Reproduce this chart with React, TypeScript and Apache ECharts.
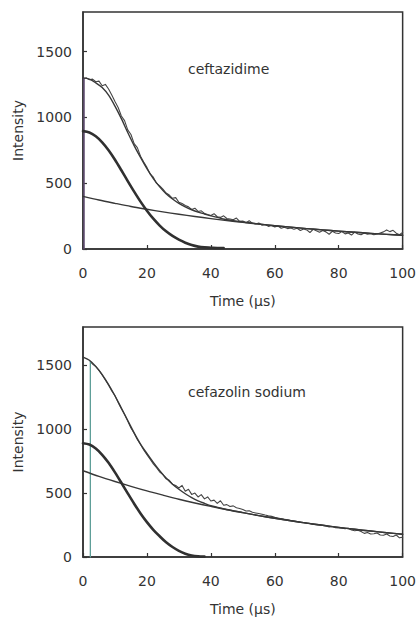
import React, { useEffect, useRef } from "react";
import * as echarts from "echarts";

// ---- data ----
const fitTimes = [0, 2, 4, 6, 8, 10, 12, 14, 16, 18, 20, 22, 24, 26, 28, 30, 32, 34, 36, 38, 40, 45, 50, 55, 60, 65, 70, 75, 80, 85, 90, 95, 100];
const gaussTimes = [0, 2, 4, 6, 8, 10, 12, 14, 16, 18, 20, 22, 24, 26, 28, 30, 32, 34, 36, 38, 40, 42, 44];
const expTimes = [0, 5, 10, 15, 20, 25, 30, 35, 40, 45, 50, 55, 60, 65, 70, 75, 80, 85, 90, 95, 100];

// ceftazidime (top panel)
const topFit = [1300, 1290, 1262, 1226, 1168, 1085, 990, 885, 785, 695, 610, 535, 472, 420, 380, 347, 320, 298, 280, 266, 252, 222, 205, 190, 177, 166, 155, 145, 136, 127, 119, 111, 104];
const topGauss = [895, 885, 856, 810, 750, 678, 598, 516, 436, 360, 291, 230, 178, 134, 99, 71, 48, 30, 18, 12, 10, 8, 8];
const topExp = [400, 372, 347, 323, 302, 282, 264, 247, 231, 216, 202, 189, 177, 166, 155, 145, 136, 127, 119, 111, 104];
const topOnset = [0.3, 1295];
const topSignal = [
  1295, 1300, 1285, 1290, 1270, 1275, 1240, 1250, 1215, 1170,
  1120, 1075, 1010, 975, 905, 870, 800, 770, 705, 660,
  620, 570, 545, 500, 480, 455, 425, 410, 385, 390,
  355, 345, 330, 320, 300, 310, 285, 290, 270, 262,
  255, 268, 245, 240, 252, 232, 228, 222, 235, 210,
  212, 200, 215, 195, 190, 198, 180, 186, 172, 178,
  168, 175, 158, 165, 155, 160, 150, 158, 140, 152,
  145, 125, 150, 138, 128, 140, 130, 112, 134, 122,
  118, 132, 115, 122, 106, 128, 114, 108, 122, 112,
  116, 108, 114, 122, 130, 145, 132, 142, 120, 108, 126,
];

// cefazolin sodium (bottom panel)
const bottomFit = [1565, 1540, 1492, 1428, 1350, 1262, 1166, 1068, 972, 884, 810, 740, 676, 618, 570, 530, 495, 465, 440, 420, 402, 372, 347, 324, 303, 284, 265, 248, 232, 217, 203, 190, 178];
const bottomGauss = [890, 880, 849, 800, 737, 662, 581, 498, 417, 341, 273, 213, 162, 115, 78, 48, 26, 12, 5, 3];
const bottomExp = [675, 631, 591, 553, 517, 484, 452, 423, 396, 370, 347, 324, 303, 284, 265, 248, 232, 217, 203, 190, 178];
const bottomOnset = [2.3, 1530];
const bottomSignalStart = 3;
const bottomSignal = [
  1510, 1490, 1460, 1425, 1385, 1345, 1300,
  1262, 1210, 1160, 1115, 1065, 1010, 968, 920, 880, 838,
  800, 765, 728, 700, 665, 645, 612, 600, 570, 560,
  540, 560, 515, 530, 490, 500, 470, 488, 455, 470,
  438, 445, 420, 440, 405, 410, 395, 400, 385, 380,
  372, 360, 362, 350, 345, 340, 335, 328, 322, 318,
  310, 305, 300, 296, 292, 286, 282, 278, 272, 270,
  265, 262, 255, 252, 250, 246, 242, 236, 238, 230,
  228, 226, 222, 225, 212, 205, 210, 200, 185, 192,
  180, 182, 188, 172, 170, 180, 165, 160, 172, 150, 155,
];

const panelLabels = ["ceftazidime", "cefazolin sodium"];
const xTitle = "Time (µs)";
const yTitle = "Intensity";

const FONT = "'DejaVu Sans', Verdana, sans-serif";
const INK = "#333333";
const LINE = "#383838";

function pairs(times: number[], vals: number[]) {
  return vals.map((v, i) => [times[i], v]);
}

export default function App() {
  const ref = useRef<HTMLDivElement>(null);
  useEffect(() => {
    if (!ref.current) return;
    const chart = echarts.init(ref.current, undefined, { renderer: "svg" });

    const grids = [
      { left: 83, top: 12, width: 321, height: 237 },
      { left: 83, top: 327, width: 321, height: 232 },
    ];

    const xAxes = grids.map((_, gi) => ({
      type: "value",
      gridIndex: gi,
      min: 0,
      max: 100,
      interval: 20,
      axisLine: { show: true, lineStyle: { color: INK, width: 1.5 } },
      axisTick: { show: true, inside: true, length: 4, lineStyle: { color: INK, width: 1.2 } },
      axisLabel: { fontSize: 14, color: INK, margin: 17, fontFamily: FONT },
      splitLine: { show: false },
      name: xTitle,
      nameLocation: "middle",
      nameGap: 45,
      nameTextStyle: { fontSize: 14, color: INK, fontFamily: FONT },
    }));

    const yAxes = grids.map((_, gi) => ({
      type: "value",
      gridIndex: gi,
      min: 0,
      max: 1800,
      interval: 500,
      axisLine: { show: true, lineStyle: { color: INK, width: 1.5 } },
      axisTick: { show: true, inside: true, length: 4, lineStyle: { color: INK, width: 1.2 } },
      axisLabel: {
        fontSize: 14,
        color: INK,
        margin: 11,
        fontFamily: FONT,
        showMaxLabel: false,
        formatter: (v: number) => String(v),
      },
      splitLine: { show: false },
      name: yTitle,
      nameLocation: "middle",
      nameGap: 56,
      nameRotate: 90,
      nameTextStyle: { fontSize: 14, color: INK, fontFamily: FONT },
    }));

    const line = (gi: number, data: number[][], width: number, color = LINE, smooth: boolean | number = false) => ({
      type: "line",
      xAxisIndex: gi,
      yAxisIndex: gi,
      data,
      showSymbol: false,
      symbol: "none",
      smooth,
      lineStyle: { color, width, cap: "round", join: "round" },
      silent: true,
    });

    const topSignalData = [[topOnset[0], topOnset[1]], ...topSignal.map((v, i) => [i, v]).filter((p) => p[0] > topOnset[0])];
    const bottomSignalData = [[bottomOnset[0], bottomOnset[1]], ...bottomSignal.map((v, i) => [i + bottomSignalStart, v])];

    const series = [
      line(0, topSignalData, 1.1, "#454545"),
      line(0, [[topOnset[0], 0], [topOnset[0], topOnset[1]]], 1.6, "#5d4a6e"),
      line(0, pairs(fitTimes, topFit), 1.4, LINE, 0.3),
      line(0, pairs(expTimes, topExp), 1.4, LINE, 0.3),
      line(0, pairs(gaussTimes, topGauss), 2.6, "#303030", 0.3),
      line(1, bottomSignalData, 1.1, "#454545"),
      line(1, [[bottomOnset[0], 0], [bottomOnset[0], bottomOnset[1]]], 1.3, "#5e9e98"),
      line(1, pairs(fitTimes, bottomFit), 1.4, LINE, 0.3),
      line(1, pairs(expTimes, bottomExp), 1.4, LINE, 0.3),
      line(1, pairs(gaussTimes.slice(0, bottomGauss.length), bottomGauss), 2.6, "#303030", 0.3),
    ];

    chart.setOption({
      animation: false,
      backgroundColor: "#ffffff",
      grid: grids.map((g) => ({ ...g, show: true, borderColor: INK, borderWidth: 1.5, backgroundColor: "transparent" })),
      xAxis: xAxes,
      yAxis: yAxes,
      series,
      graphic: [
        { type: "text", left: 188, top: 62, style: { text: panelLabels[0], fontSize: 14, fill: INK, fontFamily: FONT } },
        { type: "text", left: 188, top: 385, style: { text: panelLabels[1], fontSize: 14, fill: INK, fontFamily: FONT } },
      ],
    });
    return () => chart.dispose();
  }, []);

  return <div ref={ref} style={{ position: "fixed", left: 0, top: 0, width: 419, height: 617, background: "#fff" }} />;
}
